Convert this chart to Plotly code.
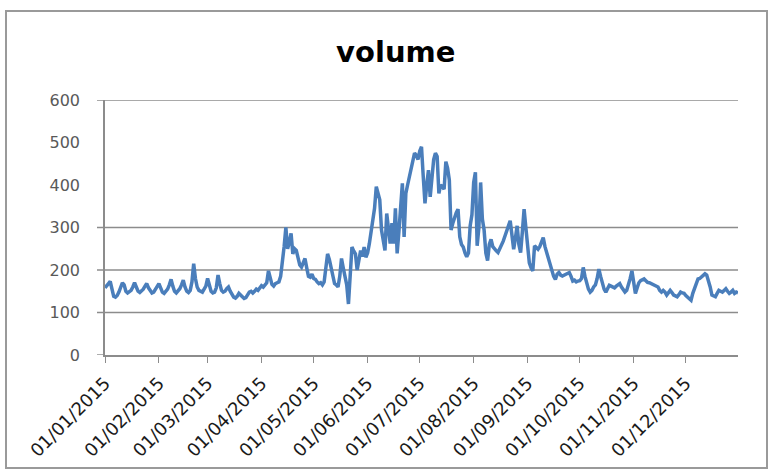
import pandas as pd
import plotly.graph_objects as go

# Daily volume for 2015, one list per month
jan = [158, 165, 168, 173, 152, 138, 136, 140, 148, 158, 170, 165, 150, 146, 148, 152,
       160, 170, 160, 150, 147, 150, 155, 162, 168, 158, 150, 146, 148, 155, 164]
feb = [168, 158, 148, 145, 150, 155, 165, 178, 162, 150, 146, 150, 156, 165, 176, 160,
       150, 147, 152, 172, 215, 180, 160, 152, 150, 148, 155, 162]
mar = [180, 162, 150, 146, 148, 158, 188, 168, 152, 148, 150, 156, 160, 150, 142, 136,
       134, 138, 145, 140, 136, 133, 135, 142, 148, 150, 146, 150, 155, 152, 158]
apr = [163, 160, 166, 170, 198, 182, 166, 162, 168, 170, 172, 185, 215, 255, 300, 250,
       265, 286, 238, 250, 246, 225, 212, 207, 215, 227, 205, 185, 183, 190]
may = [180, 178, 172, 168, 170, 165, 172, 200, 238, 225, 207, 185, 168, 165, 160, 185,
       227, 205, 183, 165, 120, 200, 254, 245, 238, 200, 220, 246, 232, 254, 230]
jun = [240, 262, 294, 320, 345, 396, 380, 365, 294, 270, 246, 333, 300, 262, 310, 262,
       345, 239, 290, 341, 404, 278, 380, 400, 420, 440, 460, 475, 470, 460]
jul = [480, 490, 420, 357, 400, 435, 372, 427, 460, 475, 467, 380, 400, 396, 390, 455,
       440, 412, 294, 310, 325, 335, 343, 278, 260, 254, 240, 231, 240, 304, 330]
aug = [406, 430, 257, 300, 406, 320, 294, 240, 222, 260, 272, 255, 249, 245, 241, 250,
       257, 268, 280, 295, 304, 316, 280, 249, 275, 304, 260, 241, 290, 343, 300]
sep = [265, 217, 205, 198, 257, 252, 249, 255, 265, 276, 255, 241, 225, 209, 195, 185,
       178, 190, 194, 188, 186, 188, 190, 192, 194, 185, 174, 176, 172, 174]
oct_ = [175, 180, 206, 185, 168, 155, 148, 152, 160, 165, 180, 202, 185, 168, 155, 148,
        156, 164, 162, 160, 158, 162, 166, 168, 160, 155, 148, 152, 164, 180, 198]
nov = [175, 145, 158, 170, 175, 178, 179, 175, 171, 170, 168, 166, 164, 162, 160, 152,
       148, 152, 148, 141, 146, 152, 147, 141, 139, 137, 142, 148, 146, 145]
dec = [140, 137, 133, 129, 145, 156, 168, 179, 180, 183, 186, 191, 188, 175, 160, 141,
       138, 137, 145, 152, 150, 148, 152, 156, 150, 145, 148, 152, 145, 148, 146]

volume = jan + feb + mar + apr + may + jun + jul + aug + sep + oct_ + nov + dec
dates = pd.date_range("2015-01-01", periods=len(volume), freq="D")

month_starts = pd.date_range("2015-01-01", "2015-12-01", freq="MS")
month_labels = [d.strftime("%d/%m/%Y") for d in month_starts]

y_labels = [0, 100, 200, 300, 400, 500, 600]
grid_levels = [100, 200, 300, 600]

W, H = 770, 473
ML, MR, MT, MB = 105, 32, 100, 118
pw, ph = W - ML - MR, H - MT - MB

def px_x(x):
    return (x - ML) / pw

def px_y(y):
    return (H - MB - y) / ph

AXIS_GREY = "#8c8c8c"

fig = go.Figure()
fig.add_trace(go.Scatter(
    x=dates, y=volume, mode="lines",
    line=dict(color="#4a7ebb", width=3.5),
    showlegend=False, hoverinfo="x+y",
))

# horizontal grid lines, each with its short tick stub left of the axis
shapes = [dict(type="line", xref="paper", yref="y", x0=px_x(97), x1=1, y0=g, y1=g,
               line=dict(color=AXIS_GREY, width=1.4), layer="below")
          for g in grid_levels]
shapes.append(dict(type="line", xref="paper", yref="y", x0=px_x(97), x1=0, y0=0, y1=0,
                   line=dict(color=AXIS_GREY, width=1.4), layer="below"))
# chart frame
shapes.append(dict(
    type="rect", xref="paper", yref="paper",
    x0=px_x(6), x1=px_x(767), y0=px_y(468), y1=px_y(11),
    line=dict(color="#9a9a9a", width=2), fillcolor="rgba(0,0,0,0)", layer="below",
))

fig.update_layout(
    width=W, height=H, autosize=False,
    margin=dict(l=ML, r=MR, t=MT, b=MB),
    paper_bgcolor="white", plot_bgcolor="white",
    title=dict(text="<b>volume</b>", x=0.514, xref="container", xanchor="center",
               y=0.89, yref="container", yanchor="middle",
               font=dict(family="DejaVu Sans", size=29, color="#000000")),
    xaxis=dict(
        type="date", range=[dates[0], dates[-1]],
        tickvals=month_starts, ticktext=month_labels, tickangle=-45,
        ticks="outside", ticklen=6, tickcolor=AXIS_GREY, tickwidth=1.3,
        showline=True, linecolor=AXIS_GREY, linewidth=1.5,
        showgrid=False, zeroline=False, ticklabelstandoff=3,
        tickfont=dict(family="DejaVu Sans", size=18, color="#1a1a1a"),
    ),
    yaxis=dict(
        range=[0, 600], tickvals=y_labels,
        ticks="", showgrid=False, zeroline=False,
        showline=True, linecolor=AXIS_GREY, linewidth=1.5,
        ticklabelstandoff=20,
        tickfont=dict(family="DejaVu Sans", size=16, color="#595959"),
    ),
    shapes=shapes,
)

fig.write_html("out.html")
